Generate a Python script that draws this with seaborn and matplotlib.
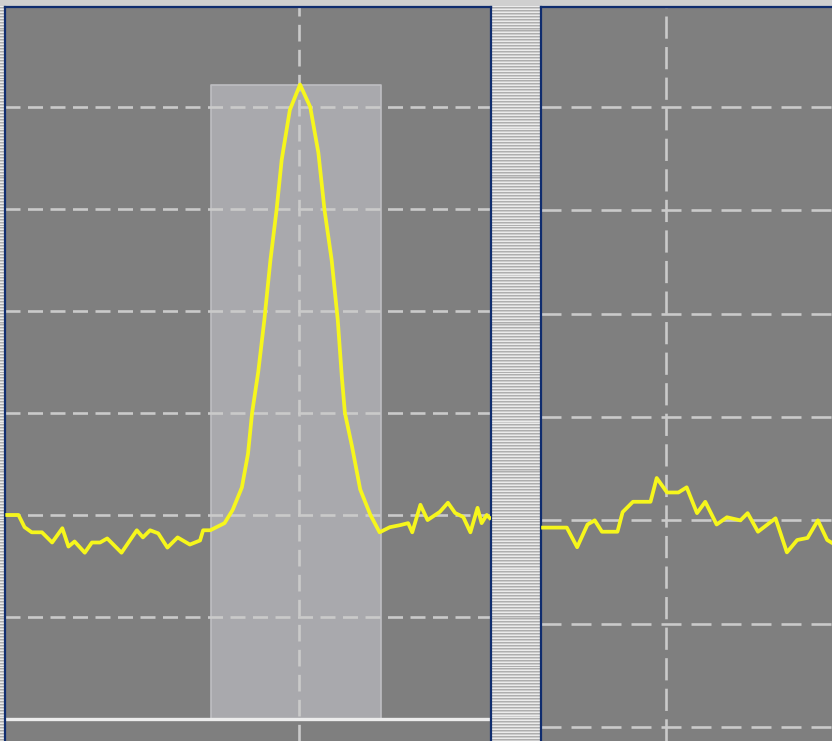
import numpy as np
import pandas as pd
import matplotlib
matplotlib.use("Agg")
import matplotlib.pyplot as plt
import seaborn as sns

# trace values, in grid divisions
left_t = [-2.86, -2.75, -2.69, -2.62, -2.52, -2.42, -2.32, -2.26, -2.20, -2.10,
          -2.03, -1.95, -1.88, -1.74, -1.59, -1.53, -1.46, -1.38, -1.29, -1.19,
          -1.07, -0.97, -0.94, -0.87, -0.73, -0.65, -0.56, -0.50, -0.46, -0.40,
          -0.34, -0.28, -0.22, -0.17, -0.09, 0.01, 0.11, 0.19, 0.25, 0.32,
          0.38, 0.42, 0.45, 0.52, 0.60, 0.70, 0.79, 0.89, 0.99, 1.07,
          1.11, 1.19, 1.26, 1.38, 1.46, 1.53, 1.61, 1.68, 1.75, 1.79,
          1.84, 1.87]
left_v = [2.00, 2.00, 1.88, 1.83, 1.83, 1.73, 1.87, 1.69, 1.74, 1.63,
          1.73, 1.73, 1.77, 1.63, 1.85, 1.78, 1.85, 1.82, 1.68, 1.78,
          1.71, 1.75, 1.85, 1.85, 1.92, 2.05, 2.27, 2.60, 3.00, 3.40,
          3.91, 4.50, 4.99, 5.48, 5.97, 6.22, 6.00, 5.55, 4.99, 4.50,
          3.91, 3.35, 3.00, 2.67, 2.25, 2.00, 1.83, 1.88, 1.90, 1.92,
          1.83, 2.10, 1.95, 2.03, 2.12, 2.02, 1.98, 1.83, 2.07, 1.92,
          2.00, 1.97]

right_t = [-1.19, -0.96, -0.86, -0.76, -0.69, -0.62, -0.47, -0.42, -0.32, -0.15,
           -0.09, 0.01, 0.12, 0.20, 0.30, 0.38, 0.49, 0.59, 0.72, 0.79,
           0.89, 1.06, 1.17, 1.27, 1.37, 1.47, 1.56, 1.61]
right_v = [1.93, 1.93, 1.74, 1.96, 2.00, 1.89, 1.89, 2.08, 2.18, 2.18,
           2.41, 2.27, 2.27, 2.32, 2.07, 2.18, 1.96, 2.03, 2.00, 2.07,
           1.89, 2.02, 1.69, 1.81, 1.83, 2.00, 1.81, 1.78]

# gate window on the left screen
gate_start = -0.86
gate_end = 0.80
gate_level = 6.22

W, H = 832, 741
bg = "#7f7f7f"
grid_c = "#cacaca"
border = "#0f2c6e"
yellow = "#f6f61c"

plt.rcParams["lines.scale_dashes"] = False
fig = plt.figure(figsize=(W / 100, H / 100), dpi=100, facecolor="#cfcfcf")


def px_axes(x0, y0, x1, y1):
    # pixel box -> figure axes
    return fig.add_axes([x0 / W, 1 - y1 / H, (x1 - x0) / W, (y1 - y0) / H])


# striped strips between and beside the screens
stripes = np.tile([[0.92], [0.68], [0.80]], (250, 1))
for x0, x1 in [(0, 5), (491, 541)]:
    sax = px_axes(x0, 6, x1, H)
    sax.imshow(stripes, cmap="gray", vmin=0, vmax=1, aspect="auto",
               interpolation="nearest")
    sax.axis("off")


def screen(ax, t, v, xlim, ylim, hlines, dash_h, dash_v):
    ax.set_facecolor(bg)
    ax.set_xlim(*xlim)
    ax.set_ylim(*ylim)
    for y in hlines:
        ax.axhline(y, color=grid_c, lw=1.9, ls=(0, dash_h), zorder=1.5)
    ax.axvline(0, color=grid_c, lw=1.9, ls=(0, dash_v), zorder=1.5)
    df = pd.DataFrame({"t": t, "v": v})
    sns.lineplot(data=df, x="t", y="v", ax=ax, sort=False, estimator=None,
                 color=yellow, lw=2.7, zorder=3)
    ax.set_xticks([])
    ax.set_yticks([])
    ax.set_xlabel("")
    ax.set_ylabel("")
    for s in ax.spines.values():
        s.set_color(border)
        s.set_linewidth(1.6)
    ax.spines["bottom"].set_visible(False)


# left screen
axL = px_axes(5, 7, 491, H)
axL.fill_between([gate_start, gate_end], 0, gate_level, color="#a9a9ad",
                 edgecolor="#bebec2", lw=1.2, zorder=1)
screen(axL, left_t, left_v, (-2.882, 1.882), (-0.216, 6.98),
       [1, 2, 3, 4, 5, 6], (10.8, 5.4), (12, 6))
axL.axhline(0, color="#ececec", lw=2.4, zorder=2)

# right screen
axR = px_axes(541, 7, W + 2, H)
screen(axR, right_t, right_v, (-1.21, 1.626), (-0.136, 6.97),
       [0, 1, 2, 3, 4, 5, 6], (14.4, 7.2), (16, 6))
axR.spines["right"].set_visible(False)

fig.savefig("out.png", dpi=100, facecolor=fig.get_facecolor())
